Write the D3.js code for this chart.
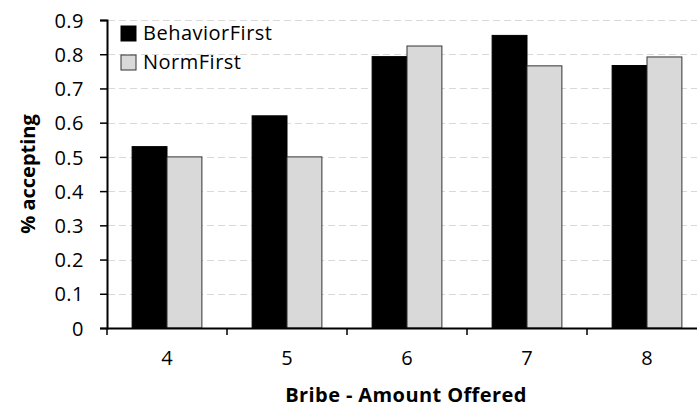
<!DOCTYPE html>
<html>
<head>
<meta charset="utf-8">
<script src="https://cdn.jsdelivr.net/npm/d3@7"></script>
<style>
  body { margin: 0; background: #fff; }
  svg { display: block; }
  svg text { font-family: 'Open Sans', Lato, sans-serif; }
</style>
</head>
<body>
<svg id="chart" width="697" height="408"></svg>
<script>
var categories = ['4', '5', '6', '7', '8']
var series = ['BehaviorFirst', 'NormFirst']
var behaviorFirst = [0.53, 0.62, 0.793, 0.855, 0.767]
var normFirst = [0.5, 0.5, 0.824, 0.766, 0.792]
var yTicks = [0, 0.1, 0.2, 0.3, 0.4, 0.5, 0.6, 0.7, 0.8, 0.9]

var values = { BehaviorFirst: behaviorFirst, NormFirst: normFirst }
var fills = { BehaviorFirst: '#000', NormFirst: '#d9d9d9' }
var strokes = { BehaviorFirst: '#000', NormFirst: '#333' }

var svg = d3.select('#chart')
var plotLeft = 107
var plotTop = 20
var plotBottom = 328
var plotRight = 707

var x0 = d3.scaleBand().domain(categories).range([plotLeft, plotRight]).padding(0)
var x1 = d3.scaleBand().domain(series).range([0, x0.bandwidth()])
  .paddingInner(0).paddingOuter(0.72)
var y = d3.scaleLinear().domain([0, 0.9]).range([plotBottom, plotTop])

// gridlines
svg.append('g')
  .selectAll('line')
  .data(yTicks.slice(1))
  .join('line')
  .attr('x1', plotLeft + 1)
  .attr('x2', 697)
  .attr('y1', (d) => Math.round(y(d)) + 0.5)
  .attr('y2', (d) => Math.round(y(d)) + 0.5)
  .attr('stroke', '#d9d9d9')
  .attr('stroke-width', 1)
  .attr('stroke-dasharray', '7,4')

// bars
var groups = svg.append('g')
  .selectAll('g')
  .data(categories)
  .join('g')
  .attr('transform', (d) => 'translate(' + x0(d) + ',0)')

groups.selectAll('rect')
  .data((c, i) => series.map((s) => ({ key: s, value: values[s][i] })))
  .join('rect')
  .attr('x', (d) => x1(d.key))
  .attr('y', (d) => y(d.value))
  .attr('width', x1.bandwidth())
  .attr('height', (d) => plotBottom - y(d.value))
  .attr('fill', (d) => fills[d.key])
  .attr('stroke', (d) => strokes[d.key])
  .attr('stroke-width', 1)

// y axis
var yAxis = svg.append('g')
  .attr('transform', 'translate(' + plotLeft + ',0)')
  .call(d3.axisLeft(y).tickValues(yTicks).tickSize(7).tickPadding(16)
    .tickFormat((d) => d === 0 ? '0' : d3.format('.1f')(d)))
yAxis.select('.domain').attr('stroke', '#000').attr('stroke-width', 2)
yAxis.selectAll('.tick line').attr('stroke', '#000').attr('stroke-width', 1.5)
yAxis.selectAll('text').attr('font-size', 20).attr('fill', '#000')
  .attr('letter-spacing', 0.5).attr('dy', '0.36em')

// x axis
var xAxis = svg.append('g')
  .attr('transform', 'translate(0,' + plotBottom + ')')
  .call(d3.axisBottom(x0).tickSize(0).tickPadding(23))
xAxis.select('.domain').attr('stroke', '#000').attr('stroke-width', 2)
xAxis.selectAll('text').attr('font-size', 20).attr('fill', '#000')

// boundary ticks between categories
svg.append('g')
  .selectAll('line')
  .data(categories)
  .join('line')
  .attr('x1', (d) => x0(d))
  .attr('x2', (d) => x0(d))
  .attr('y1', plotBottom)
  .attr('y2', plotBottom + 7)
  .attr('stroke', '#000')
  .attr('stroke-width', 1.5)

// axis titles
svg.append('text')
  .attr('x', 406)
  .attr('y', 402)
  .attr('text-anchor', 'middle')
  .attr('font-size', 20)
  .attr('font-weight', 'bold')
  .attr('letter-spacing', 0.4)
  .text('Bribe - Amount Offered')

svg.append('text')
  .attr('transform', 'translate(35,174) rotate(-90)')
  .attr('text-anchor', 'middle')
  .attr('font-size', 20)
  .attr('font-weight', 'bold')
  .text('% accepting')

// legend
var legend = svg.append('g')
  .selectAll('g')
  .data(series)
  .join('g')
  .attr('transform', (d, i) => 'translate(121,' + (26 + i * 29) + ')')

legend.append('rect')
  .attr('width', 15)
  .attr('height', 15)
  .attr('fill', (d) => fills[d])
  .attr('stroke', (d) => strokes[d])
  .attr('stroke-width', 1)

legend.append('text')
  .attr('x', 22)
  .attr('y', 14)
  .attr('font-size', 20)
  .attr('letter-spacing', 0.5)
  .text((d) => d)
</script>
</body>
</html>
